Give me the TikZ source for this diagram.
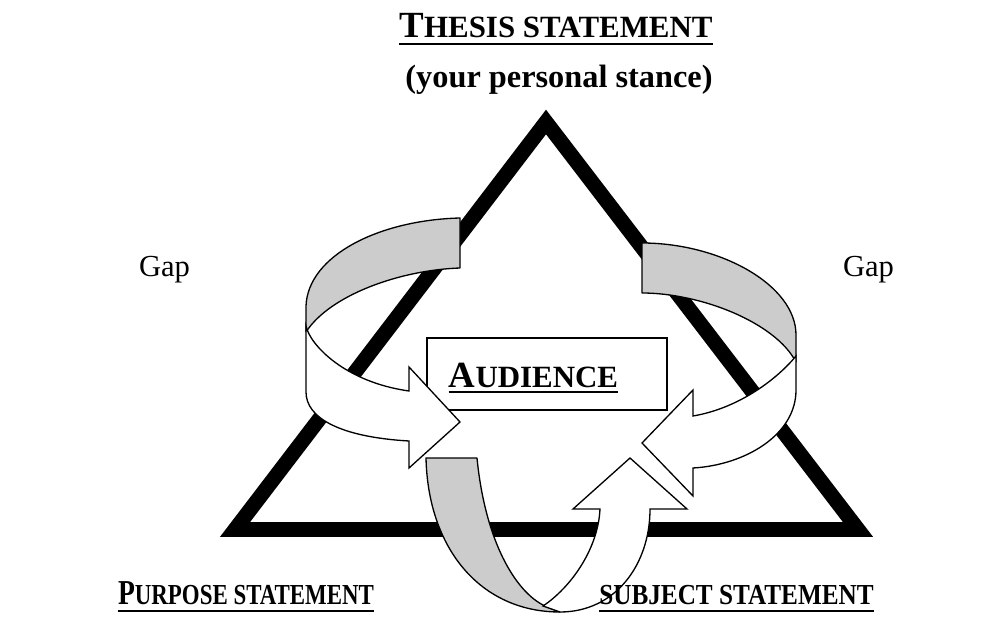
\documentclass[tikz,border=0pt]{standalone}
\usepackage{fontspec}
\setmainfont{Liberation Serif}
\usepackage{graphicx}
\definecolor{ribbongray}{RGB}{204,204,204}
% fake small capitals: a large initial and smaller capitals
\newcommand\initcap[1]{{\fontsize{21pt}{21pt}\selectfont #1}}
\newcommand\smallcap[1]{{\fontsize{17.6pt}{17.6pt}\selectfont #1}}
\newcommand\lowinit[1]{{\fontsize{19.9pt}{19.9pt}\selectfont #1}}
\newcommand\lowcap[1]{{\fontsize{16.5pt}{16.5pt}\selectfont #1}}
\begin{document}
\begin{tikzpicture}[x=0.02cm,y=-0.02cm,
  title/.style={inner sep=0pt,anchor=base,font=\bfseries},
  plain/.style={inner sep=0pt,anchor=base,font=\fontsize{17.4pt}{17.4pt}\selectfont},
  uline/.style={line width=1.3pt},
  back/.style={fill=ribbongray,draw=black,line width=0.75pt,line join=round},
  front/.style={fill=white,draw=black,line width=0.75pt,line join=miter}]
\useasboundingbox (0,0) rectangle (1000,621);

% the triangle
\draw[line width=8.5pt,line join=miter] (235,529.5) -- (858,529.5) -- (546,122) -- cycle;

% centre box
\draw[line width=0.9pt,fill=white] (427,338) rectangle (667,410);
\node[title] (aud) at (533.5,387) {\initcap{A}\smallcap{UDIENCE}};
\draw[uline] ([yshift=-2.9pt]aud.base west) -- ([yshift=-2.9pt]aud.base east);

% lower ribbon arrow
\filldraw[back] (426,458) -- (477,458) .. controls (485,540) and (515,592) .. (545,606)
  -- (560,612) .. controls (480,612) and (428,548) .. (426,458) -- cycle;
\filldraw[front] (543,606) .. controls (570,588) and (598,550) .. (600,509)
  -- (573,509) -- (630,458) -- (687,509) -- (650,509)
  .. controls (650,565) and (615,612) .. (560,612) -- cycle;

% left ribbon arrow
\filldraw[back] (460,218) .. controls (380,220) and (308,255) .. (306,306)
  -- (306,332) .. controls (330,295) and (400,270) .. (460,268) -- cycle;
\filldraw[front] (306,326) .. controls (310,345) and (345,382) .. (409,391)
  -- (409,367) -- (460,422) -- (409,468) -- (409,441)
  .. controls (340,437) and (306,418) .. (306,392) -- cycle;

% right ribbon arrow
\filldraw[back] (642,243) .. controls (720,243) and (796,285) .. (796,335)
  -- (796,362) .. controls (775,322) and (700,293) .. (642,293) -- cycle;
\filldraw[front] (796,356) .. controls (778,378) and (740,408) .. (693,416)
  -- (693,390) -- (642,443) -- (693,496) -- (693,468)
  .. controls (745,465) and (796,435) .. (796,390) -- cycle;

% headings
\node[title] (thesis) at (556,38) {\initcap{T}\smallcap{HESIS STATEMENT}};
\draw[uline] ([yshift=-3.4pt]thesis.base west) -- ([yshift=-3.4pt]thesis.base east);
\node[title,font=\bfseries\fontsize{18.4pt}{18.4pt}\selectfont] (stance) at (559,88) {(your personal stance)};

\node[plain] (gapl) at (164.5,277) {Gap};
\node[plain] (gapr) at (868.5,277) {Gap};

\node[title] (purpose) at (246,604) {\scalebox{0.79}[1]{\lowinit{P}\lowcap{URPOSE STATEMENT}}};
\draw[uline] ([yshift=-4pt]purpose.base west) -- ([yshift=-4pt]purpose.base east);
\node[title] (subject) at (736.5,604) {\scalebox{0.87}[1]{\lowcap{SUBJECT STATEMENT}}};
\draw[uline] ([yshift=-4pt]subject.base west) -- ([yshift=-4pt]subject.base east);
\end{tikzpicture}
\end{document}
